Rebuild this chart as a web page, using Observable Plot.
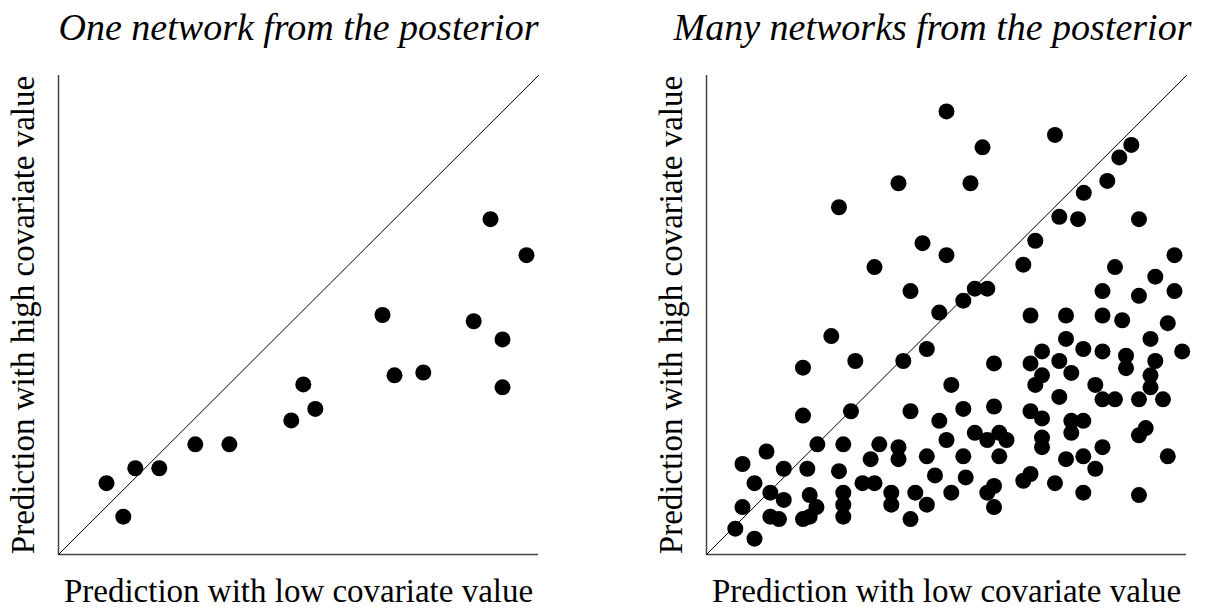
<!DOCTYPE html>
<html>
<head>
<meta charset="utf-8">
<script src="https://cdn.jsdelivr.net/npm/d3@7"></script>
<script src="https://cdn.jsdelivr.net/npm/@observablehq/plot@0.6"></script>
<style>
  body { margin: 0; background: #fff; }
  #chart { position: relative; width: 1206px; height: 608px; }
  #chart svg { position: absolute; top: 0; overflow: visible; }
</style>
</head>
<body>
<div id="chart"></div>
<script>
// Panel titles and axis labels
const panelTitles = ["One network from the posterior", "Many networks from the posterior"];
const xLabel = "Prediction with low covariate value";
const yLabel = "Prediction with high covariate value";

// Single posterior draw: prediction at low vs high covariate value
const oneLow  = [0.100, 0.135, 0.160, 0.210, 0.285, 0.356, 0.485, 0.510, 0.535, 0.675, 0.700, 0.760, 0.865, 0.900, 0.925, 0.925, 0.975];
const oneHigh = [0.149, 0.079, 0.180, 0.180, 0.230, 0.230, 0.280, 0.355, 0.304, 0.500, 0.374, 0.380, 0.487, 0.700, 0.449, 0.349, 0.625];

// Many posterior draws
const manyLow = [
  0.500, 0.726, 0.575, 0.885, 0.860, 0.400, 0.550, 0.835, 0.786, 0.276,
  0.735, 0.774, 0.901, 0.450, 0.685, 0.500, 0.975, 0.350, 0.660, 0.851,
  0.935, 0.425, 0.559, 0.585, 0.825, 0.901, 0.975, 0.535, 0.485, 0.675,
  0.749, 0.825, 0.866, 0.961,
  0.260, 0.749, 0.925, 0.459, 0.699, 0.785, 0.825, 0.991, 0.201, 0.310,
  0.410, 0.599, 0.675, 0.735, 0.874, 0.874, 0.935, 0.760, 0.699, 0.925,
  0.685, 0.510, 0.810, 0.925, 0.735, 0.825, 0.851, 0.901, 0.951, 0.201,
  0.301, 0.425, 0.535, 0.599, 0.675, 0.699, 0.485, 0.760, 0.785, 0.760,
  0.901, 0.915, 0.231, 0.285, 0.360, 0.400, 0.500, 0.559, 0.585, 0.610,
  0.625, 0.699, 0.699, 0.825, 0.125, 0.075, 0.161, 0.210, 0.276, 0.342,
  0.400, 0.459, 0.535, 0.610, 0.749, 0.785, 0.810, 0.961, 0.100, 0.133,
  0.161, 0.215, 0.229, 0.285, 0.285, 0.285, 0.325, 0.350, 0.385, 0.385,
  0.435, 0.459, 0.476, 0.510, 0.540, 0.585, 0.599, 0.599, 0.660, 0.675,
  0.726, 0.785, 0.901, 0.075, 0.133, 0.151, 0.201, 0.215, 0.425, 0.060,
  0.100
];
const manyHigh = [
  0.925, 0.876, 0.850, 0.855, 0.829, 0.775, 0.775, 0.780, 0.755, 0.725,
  0.705, 0.700, 0.700, 0.650, 0.655, 0.625, 0.625, 0.600, 0.605, 0.600,
  0.580, 0.550, 0.555, 0.555, 0.550, 0.540, 0.550, 0.530, 0.505, 0.499,
  0.499, 0.499, 0.489, 0.483,
  0.456, 0.450, 0.450, 0.429, 0.424, 0.429, 0.424, 0.424, 0.390, 0.404,
  0.404, 0.399, 0.399, 0.404, 0.415, 0.389, 0.404, 0.379, 0.374, 0.374,
  0.354, 0.354, 0.354, 0.349, 0.329, 0.324, 0.324, 0.324, 0.324, 0.290,
  0.299, 0.299, 0.304, 0.309, 0.299, 0.284, 0.279, 0.279, 0.279, 0.254,
  0.249, 0.264, 0.230, 0.230, 0.230, 0.224, 0.239, 0.254, 0.239, 0.254,
  0.239, 0.244, 0.224, 0.224, 0.215, 0.189, 0.179, 0.179, 0.174, 0.199,
  0.199, 0.205, 0.205, 0.205, 0.199, 0.205, 0.179, 0.205, 0.149, 0.129,
  0.114, 0.124, 0.099, 0.129, 0.104, 0.079, 0.149, 0.149, 0.129, 0.104,
  0.129, 0.104, 0.165, 0.129, 0.161, 0.129, 0.143, 0.099, 0.154, 0.168,
  0.149, 0.129, 0.124, 0.099, 0.079, 0.074, 0.074, 0.079, 0.074, 0.054,
  0.033
];

const serif = "'Liberation Serif', 'Times New Roman', Times, serif";
const identity = [0, 1];

function panel(low, high, title, width, marginRight, titleDx) {
  const points = low.map((x, i) => ({x, y: high[i]}));
  return Plot.plot({
    width,
    height: 608,
    marginLeft: 58,
    marginRight,
    marginTop: 75,
    marginBottom: 54,
    x: {domain: [0, 1], axis: null},
    y: {domain: [0, 1], axis: null},
    style: {fontFamily: serif, background: "white", color: "black"},
    marks: [
      // axis lines (no ticks)
      Plot.ruleY([0], {stroke: "#444", strokeWidth: 1.5}),
      Plot.ruleX([0], {stroke: "#444", strokeWidth: 1.5}),
      // line of equality
      Plot.line(identity, {x: d => d, y: d => d, stroke: "black", strokeWidth: 1}),
      Plot.dot(points, {x: "x", y: "y", r: 8, fill: "black", stroke: null}),
      Plot.text([title], {
        frameAnchor: "top", lineAnchor: "bottom", dy: -36, dx: titleDx,
        fontSize: 38, fontStyle: "italic", fill: "black"
      }),
      Plot.text([xLabel], {
        frameAnchor: "bottom", lineAnchor: "bottom", dy: 47,
        fontSize: 33, fill: "black"
      }),
      Plot.text([yLabel], {
        frameAnchor: "left", textAnchor: "middle", lineAnchor: "bottom",
        rotate: -90, dx: -25, fontSize: 33, fill: "black"
      })
    ]
  });
}

const chart = document.getElementById("chart");
const left = panel(oneLow, oneHigh, panelTitles[0], 648, 110, 0);
left.style.left = "0px";
const right = panel(manyLow, manyHigh, panelTitles[1], 558, 20, -14);
right.style.left = "648px";
chart.append(left, right);
</script>
</body>
</html>
